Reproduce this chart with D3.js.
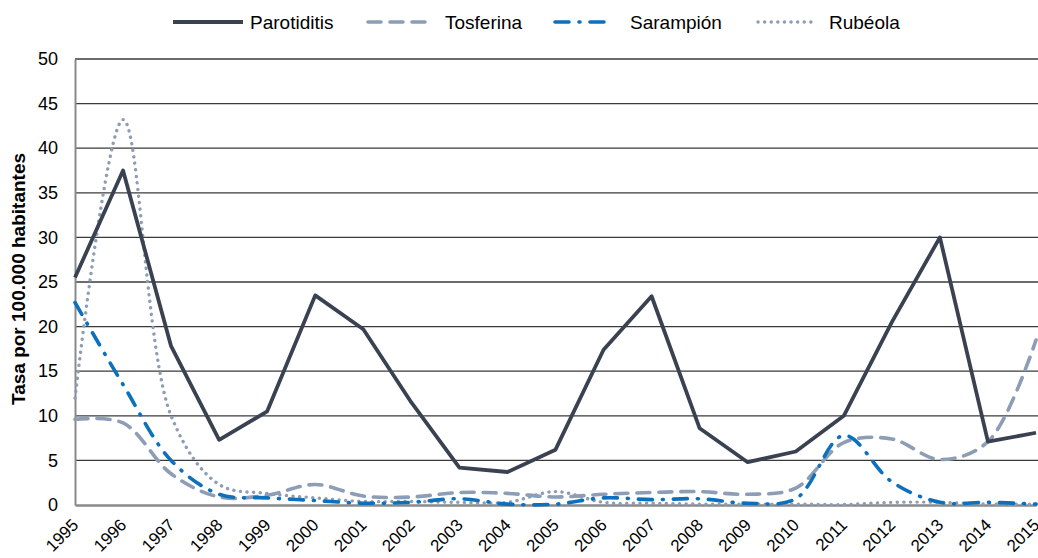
<!DOCTYPE html>
<html><head><meta charset="utf-8">
<script src="https://cdn.jsdelivr.net/npm/d3@7"></script>
<style>body{margin:0;background:#fff;} text{font-family:"Liberation Sans",Arial,sans-serif;}</style>
</head><body><svg id="c" width="1038" height="558"></svg>
<script>
const years = [1995,1996,1997,1998,1999,2000,2001,2002,2003,2004,2005,2006,2007,2008,2009,2010,2011,2012,2013,2014,2015];
const parotiditis = [25.5,37.5,17.8,7.3,10.5,23.5,19.7,11.5,4.2,3.7,6.2,17.4,23.4,8.6,4.8,6.0,10.0,20.5,30.0,7.1,8.1];
const tosferina = [9.6,9.2,3.5,0.9,1.1,2.3,1.0,0.9,1.4,1.3,0.9,1.2,1.4,1.5,1.2,1.9,7.0,7.4,5.1,7.1,18.5];
const sarampion = [22.7,13.5,5.0,1.2,0.8,0.5,0.2,0.3,0.7,0.1,0.1,0.8,0.6,0.7,0.2,0.7,7.8,2.6,0.3,0.3,0.1];
const rubeola = [12.0,43.2,10.0,2.3,1.3,0.8,0.4,0.4,0.3,0.3,1.5,0.3,0.2,0.1,0.1,0.1,0.05,0.3,0.3,0.1,0.1];
const yTicks = [0,5,10,15,20,25,30,35,40,45,50];
const seriesNames = ["Parotiditis","Tosferina","Sarampión","Rubéola"];

const svg = d3.select("#c");
const L=75, R=1036, T=59, B=505;
const x = d3.scalePoint().domain(years).range([L,R]);
const y = d3.scaleLinear().domain([0,50]).range([B,T]);

// grid
svg.append("g").selectAll("line").data(yTicks.filter(d=>d>0)).join("line")
  .attr("x1",L).attr("x2",R+2).attr("y1",d=>y(d)).attr("y2",d=>y(d))
  .attr("stroke","#3a3a3a").attr("stroke-width",1.3);

// axes
const ya = svg.append("g").attr("transform",`translate(${L},0)`)
  .call(d3.axisLeft(y).tickValues(yTicks).tickSize(0).tickPadding(17));
ya.select(".domain").attr("stroke","#8a8a8a").attr("stroke-width",2);
ya.selectAll("text").attr("font-size",18).attr("fill","#000");

const xa = svg.append("g").attr("transform",`translate(0,${B})`)
  .call(d3.axisBottom(x).tickSize(0).tickPadding(0));
xa.select(".domain").attr("stroke","#8a8a8a").attr("stroke-width",2.5);
xa.selectAll("text").attr("font-size",17).attr("fill","#000")
  .attr("text-anchor","end").attr("dy",0)
  .attr("transform","translate(4,21) rotate(-45)");

svg.append("text").attr("transform",`translate(25,279) rotate(-90)`)
  .attr("text-anchor","middle").attr("font-size",19).attr("font-weight","bold")
  .text("Tasa por 100.000 habitantes");

const defs = [
  {data:parotiditis,color:"#3a4252",dash:null,w:3.8,curve:d3.curveLinear,cap:"butt"},
  {data:tosferina,color:"#8c9db5",dash:"13,9",w:3.6,curve:d3.curveCatmullRom.alpha(0.5),cap:"round"},
  {data:sarampion,color:"#0d70bd",dash:"14,10,1,10",w:3.6,curve:d3.curveCatmullRom.alpha(0.5),cap:"round"},
  {data:rubeola,color:"#8c9db5",dash:"0.1,6.5",w:3.4,curve:d3.curveCatmullRom.alpha(0.5),cap:"round"}
];
const order=[3,1,2,0];
order.forEach(i=>{
  const s=defs[i];
  const line=d3.line().x((d,j)=>x(years[j])).y(d=>y(d)).curve(s.curve);
  svg.append("path").attr("d",line(s.data)).attr("fill","none")
    .attr("stroke",s.color).attr("stroke-width",s.w)
    .attr("stroke-dasharray",s.dash).attr("stroke-linecap",s.cap).attr("stroke-linejoin","round");
});

// legend
const lx=[173,368,555,758], lw=[70,57,57,57], tx=[250,445,630,829];
seriesNames.forEach((n,i)=>{
  const s=defs[i];
  svg.append("line").attr("x1",lx[i]).attr("x2",lx[i]+lw[i]).attr("y1",22).attr("y2",22)
    .attr("stroke",s.color).attr("stroke-width",s.w)
    .attr("stroke-dasharray",s.dash).attr("stroke-linecap",s.cap);
  svg.append("text").attr("x",tx[i]).attr("y",29).attr("font-size",19).text(n);
});
</script></body></html>
